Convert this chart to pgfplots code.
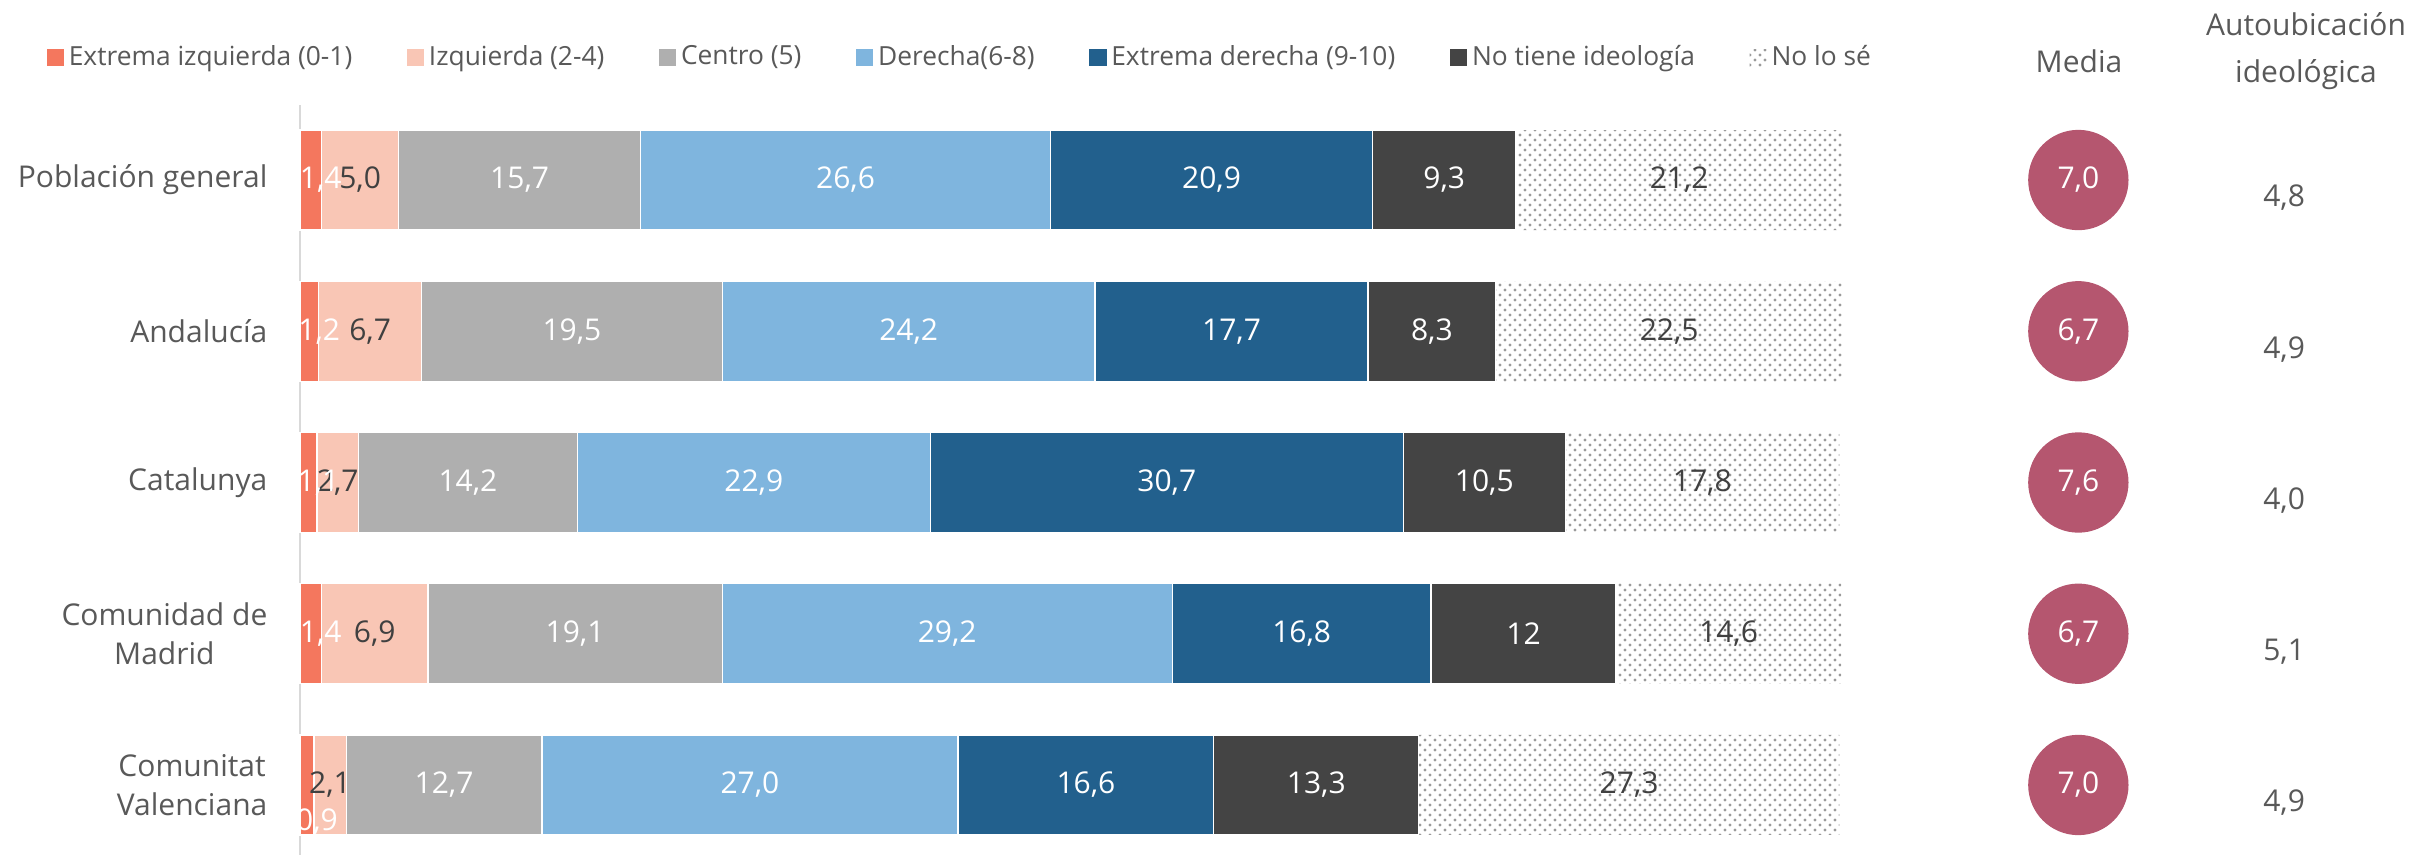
\documentclass[border=0pt]{standalone}
\usepackage{pgfplots}
\pgfplotsset{compat=1.18}
\usepackage{pgfplotstable}
\usetikzlibrary{patterns}
\usepackage{fontspec}
\setmainfont{Open Sans}

\definecolor{cEI}{HTML}{F4775E}
\definecolor{cIZ}{HTML}{F9C6B5}
\definecolor{cCE}{HTML}{AFAFAF}
\definecolor{cDE}{HTML}{7FB5DE}
\definecolor{cED}{HTML}{22608D}
\definecolor{cNT}{HTML}{444444}
\definecolor{cNS}{HTML}{9A9A9A}
\definecolor{cMedia}{HTML}{B5566F}
\definecolor{txt}{HTML}{404040}
\definecolor{leg}{HTML}{595959}

% 5.0 -> 5,0 ; 12 -> 12
\def\decomma#1{\expandafter\decommaA#1..\relax}
\def\decommaA#1.#2.#3\relax{#1\ifx\relax#2\relax\else,#2\fi}

\newcommand{\fsz}[1]{\fontsize{#1}{1.3\dimexpr#1pt\relax}\selectfont}

\pgfplotstableread{
idx ei  iz  ce   de   ed   nt   ns   dy media auto
0   1.4 5.0 15.7 26.6 20.9 9.3  21.2 0  7.0  4.8
1   1.2 6.7 19.5 24.2 17.7 8.3  22.5 0  6.7  4.9
2   1.1 2.7 14.2 22.9 30.7 10.5 17.8 0  7.6  4.0
3   1.4 6.9 19.1 29.2 16.8 12   14.6 0  6.7  5.1
4   0.9 2.1 12.7 27.0 16.6 13.3 27.3 11 7.0  4.9
}\data

\pgfplotsset{
  frame/.style={
    scale only axis, width=462.3pt, height=225pt,
    xmin=0, xmax=100, ymin=-0.496, ymax=4.463, y dir=reverse,
    at={(0,0)}, anchor=north west, clip=false,
  },
  seg/.style n args={3}{
    #1, draw=white, line width=0.4pt,
    point meta=explicit symbolic,
    visualization depends on={\thisrow{dy} \as \mydy},
    nodes near coords={\decomma{\pgfplotspointmeta}},
    every node near coord/.append style={anchor=center, font=\fsz{9}, text=#3},
  },
}

\begin{document}
\begin{tikzpicture}
\begin{axis}[frame,
  xbar stacked, bar width=30pt,
  axis x line=none, axis y line=left,
  axis line style={-, draw=black!15, line width=0.8pt},
  xtick=\empty,
  ytick={0,1,2,3,4},
  yticklabels={Población general, Andalucía, Catalunya, Comunidad de\\Madrid, Comunitat\\Valenciana},
  major tick length=0pt,
  yticklabel style={align=center, font=\fsz{9}, text=leg, inner sep=0pt, xshift=-9.6pt},
  legend columns=-1,
  legend image code/.code={\path[#1, draw=none] (0pt,-2.6pt) rectangle (5.2pt,2.6pt);},
  legend style={draw=none, at={(-0.1647,1.063)}, anchor=west, inner sep=0pt,
    font=\fsz{7.9}, text=leg,
    nodes={inner sep=1.4pt},
    /tikz/every even column/.append style={column sep=15pt}},
]
\addplot[seg={fill=cEI}{ei}{white},
  every node near coord/.append style={xshift=3pt, yshift=-\mydy*1pt}] table[x=ei, y=idx, meta=ei] {\data};
\addplot[seg={fill=cIZ}{iz}{txt}] table[x=iz, y=idx, meta=iz] {\data};
\addplot[seg={fill=cCE}{ce}{white}] table[x=ce, y=idx, meta=ce] {\data};
\addplot[seg={fill=cDE}{de}{white}] table[x=de, y=idx, meta=de] {\data};
\addplot[seg={fill=cED}{ed}{white}] table[x=ed, y=idx, meta=ed] {\data};
\addplot[seg={fill=cNT}{nt}{white}] table[x=nt, y=idx, meta=nt] {\data};
\addplot[seg={pattern=crosshatch dots, pattern color=cNS}{ns}{txt}, draw=none] table[x=ns, y=idx, meta=ns] {\data};
\legend{Extrema izquierda (0-1), Izquierda (2-4), Centro (5), Derecha(6-8), Extrema derecha (9-10), No tiene ideología, No lo sé}
\end{axis}

\begin{axis}[frame, hide axis]
% Media
\addplot[cMedia, only marks, mark=*, mark size=14.85pt, mark options={fill=cMedia, draw=cMedia},
  point meta=\thisrow{media},
  nodes near coords={\pgfmathprintnumber[fixed, fixed zerofill, precision=1, use comma, assume math mode=true]{\pgfplotspointmeta}},
  every node near coord/.append style={anchor=center, text=white, font=\fsz{9}}]
  table[x expr=115.4, y=idx] {\data};
% Autoubicacion ideologica
\addplot[draw=none, mark=none,
  point meta=\thisrow{auto},
  nodes near coords={\pgfmathprintnumber[fixed, fixed zerofill, precision=1, use comma, assume math mode=true]{\pgfplotspointmeta}},
  every node near coord/.append style={anchor=center, text=leg, font=\fsz{9}, yshift=-5.4pt}]
  table[x expr=128.75, y=idx] {\data};
\end{axis}

\node[text=leg, font=\fsz{9}] at (533.7pt,13.2pt) {Media};
\node[text=leg, font=\fontsize{9}{14}\selectfont, align=center] at (601.8pt,16.2pt) {Autoubicación\\ideológica};

\pgfresetboundingbox
\path (-90pt,31.5pt) rectangle (639.9pt,-225pt);
\end{tikzpicture}
\end{document}
